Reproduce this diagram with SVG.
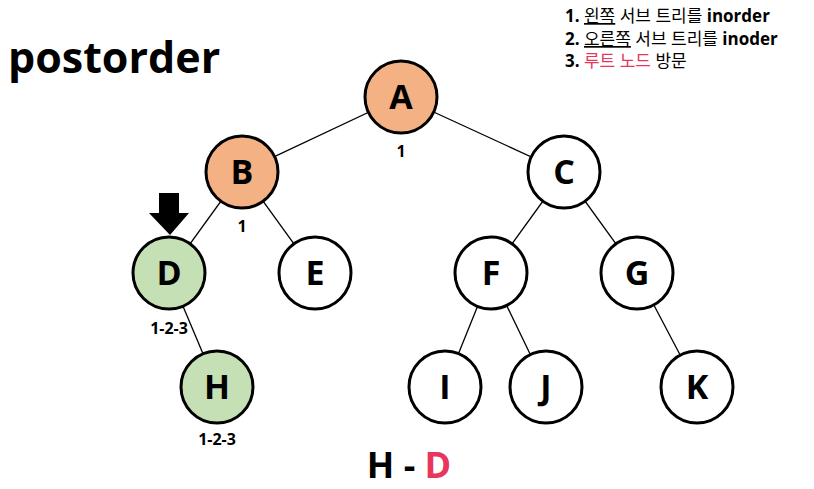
<svg xmlns="http://www.w3.org/2000/svg" width="814" height="489" viewBox="0 0 814 489">
<style>
.n{stroke:#000;stroke-width:3}
.l{font-family:"Open Sans","Noto Sans","Noto Sans CJK KR",sans-serif;font-weight:bold;font-size:34px;text-anchor:middle}
.s{font-family:"Open Sans","Noto Sans",sans-serif;font-weight:bold;font-size:16px;text-anchor:middle}
.k{font-family:"Open Sans","Noto Sans CJK KR",sans-serif;font-size:17px}
.e{stroke:#000;stroke-width:1.3}
</style>
<rect width="814" height="489" fill="#fff"/>
<text x="8" y="73" font-family="Open Sans,Noto Sans,sans-serif" font-weight="bold" font-size="43">postorder</text>
<g class="k">
<text x="565" y="22"><tspan font-weight="bold">1. </tspan><tspan text-decoration="underline">왼쪽</tspan> 서브 트리를 <tspan font-weight="bold">inorder</tspan></text>
<text x="565" y="45"><tspan font-weight="bold">2. </tspan><tspan text-decoration="underline">오른쪽</tspan> 서브 트리를 <tspan font-weight="bold">inoder</tspan></text>
<text x="565" y="67"><tspan font-weight="bold">3. </tspan><tspan fill="#e8365d">루트 노드</tspan> 방문</text>
</g>
<g id="connectors" class="e">
<line x1="401" y1="97" x2="242" y2="172"/><line x1="401" y1="97" x2="564" y2="172"/>
<line x1="242" y1="172" x2="169" y2="273"/><line x1="242" y1="172" x2="315" y2="273"/>
<line x1="564" y1="172" x2="491" y2="273"/><line x1="564" y1="172" x2="637" y2="273"/>
<line x1="169" y1="273" x2="217" y2="387"/>
<line x1="491" y1="273" x2="445" y2="387"/><line x1="491" y1="273" x2="546" y2="387"/>
<line x1="637" y1="273" x2="697" y2="387"/>
</g>
<g id="A"><circle class="n" cx="401" cy="97" r="36" fill="#f4b183"/><text class="l" x="401" y="109">A</text></g>
<g id="B"><circle class="n" cx="242" cy="172" r="36" fill="#f4b183"/><text class="l" x="242" y="184">B</text></g>
<g id="C"><circle class="n" cx="564" cy="172" r="36" fill="#fff"/><text class="l" x="564" y="184">C</text></g>
<g id="D"><circle class="n" cx="169" cy="273" r="36" fill="#c5e0b4"/><text class="l" x="169" y="285">D</text></g>
<g id="E"><circle class="n" cx="315" cy="273" r="36" fill="#fff"/><text class="l" x="315" y="285">E</text></g>
<g id="F"><circle class="n" cx="491" cy="273" r="36" fill="#fff"/><text class="l" x="491" y="285">F</text></g>
<g id="G"><circle class="n" cx="637" cy="273" r="36" fill="#fff"/><text class="l" x="637" y="285">G</text></g>
<g id="H"><circle class="n" cx="217" cy="387" r="36" fill="#c5e0b4"/><text class="l" x="217" y="399">H</text></g>
<g id="I"><circle class="n" cx="445" cy="387" r="36" fill="#fff"/><text class="l" x="445" y="399">I</text></g>
<g id="J"><circle class="n" cx="546" cy="387" r="36" fill="#fff"/><text class="l" x="546" y="399">J</text></g>
<g id="K"><circle class="n" cx="697" cy="387" r="36" fill="#fff"/><text class="l" x="697" y="399">K</text></g>
<text class="s" x="401" y="157">1</text>
<text class="s" x="242" y="232">1</text>
<text class="s" x="169" y="334">1-2-3</text>
<text class="s" x="217" y="445">1-2-3</text>
<polygon points="159,193 179,193 179,213 189,213 170,235 149,213 159,213" fill="#000"/>
<text x="409" y="478" font-family="Open Sans,Noto Sans,sans-serif" font-weight="bold" font-size="36" text-anchor="middle">H - <tspan fill="#e8365d">D</tspan></text>
</svg>
